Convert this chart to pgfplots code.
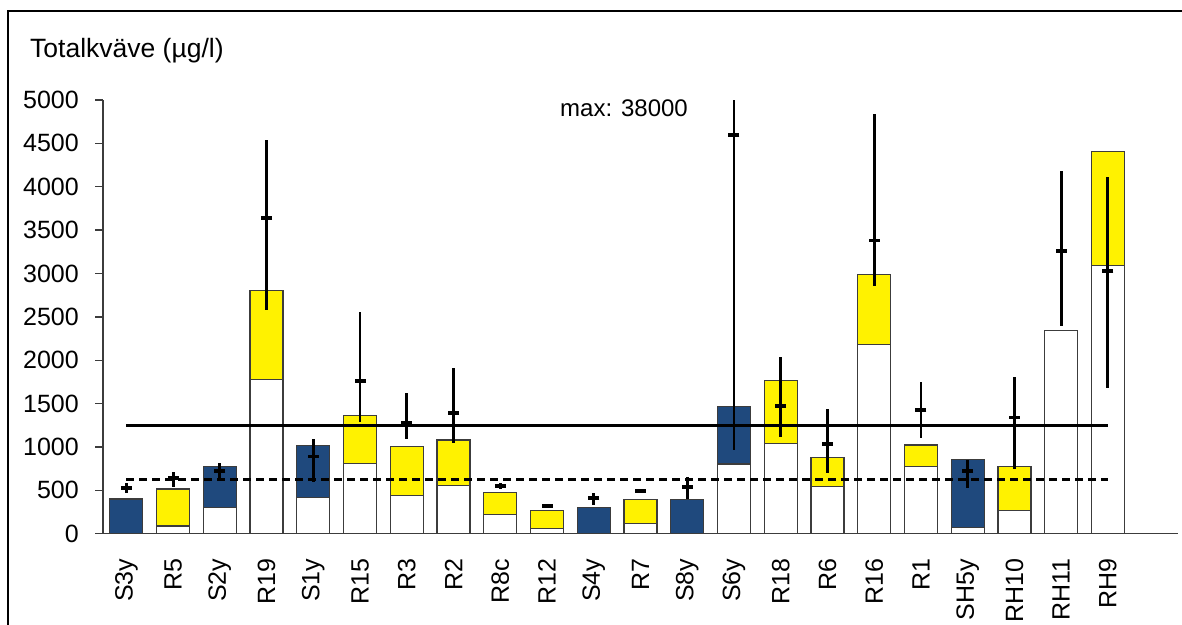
\documentclass[border=0pt]{standalone}
\usepackage{pgfplots}
\pgfplotsset{compat=1.18}
\usepackage{fontspec}
\setmainfont{Liberation Sans}
\definecolor{navy}{RGB}{31,73,125}
\definecolor{edge}{RGB}{60,60,60}
\pgfplotstableread{
x  y     ep     em
0  530   50     65
1  639   76     97
2  723   89     112
3  3643  899    1062
4  889   204    289
5  1762  793    477
6  1273  347    180
7  1393  522    350
8  550   38     38
9  320   20     25
10 408   58     77
11 493   27     28
12 543   115    146
13 4597  33403  3631
14 1473  569    354
15 1031  408    334
16 3381  1461   523
17 1423  324    323
18 723   127    200
19 1339  473    596
20 3262  915    873
21 3031  1077   1346
}\errtab
\begin{document}
\begin{tikzpicture}[x=1bp,y=1bp]
\path[use as bounding box] (0,0) rectangle (1182,-625);
\draw[line width=2bp, black] (8,-625) -- (8,-11) -- (1182,-11);
\node[anchor=base west, font=\fontsize{26.5bp}{31bp}\selectfont, inner sep=0pt] at (30,-58) {Totalkväve (µg/l)};
\begin{axis}[
  at={(103bp,-533.7bp)}, anchor=south west,
  width=1075bp, height=433.7bp, scale only axis,
  xmin=-0.5, xmax=22.5, ymin=0, ymax=5000,
  axis x line*=bottom, axis y line*=left,
  axis line style={edge, line width=1.3bp},
  ytick={0,500,...,5000},
  scaled y ticks=false,
  /pgf/number format/1000 sep={},
  /pgf/number format/assume math mode=true,
  tick label style={font=\fontsize{25bp}{30bp}\selectfont},
  tick align=outside,
  y tick style={edge, line width=1.3bp},
  major tick length=8bp,
  x tick style={draw=none},
  xtick={0,...,21},
  xticklabels={S3y,R5,S2y,R19,S1y,R15,R3,R2,R8c,R12,S4y,R7,S8y,S6y,R18,R6,R16,R1,SH5y,RH10,RH11,RH9},
  xticklabel style={rotate=90, anchor=east, inner sep=0pt},
  xticklabel shift=17bp,
  yticklabel style={inner sep=0pt},
  yticklabel shift=16bp,
  clip=true,
]
\addplot[ybar, bar width=33bp, bar shift=0pt, fill=navy, draw=edge, line width=1.2bp] coordinates {
(0,400) (2,777) (4,1020) (10,304) (12,397) (13,1462) (18,858)};
\addplot[ybar, bar width=33bp, bar shift=0pt, fill=yellow, draw=edge, line width=1.2bp] coordinates {
(1,516) (3,2800) (5,1362) (6,1008) (7,1081) (8,477) (9,270) (11,397) (14,1766) (15,877) (16,2985) (17,1023) (19,773) (21,4404)};
\addplot[ybar, bar width=33bp, bar shift=0pt, fill=white, draw=edge, line width=1.2bp] coordinates {
(1,89) (2,300) (3,1781) (4,416) (5,812) (6,442) (7,554) (8,224) (9,62) (11,115) (13,804) (14,1039) (15,543) (16,2185) (17,777) (18,70) (19,266) (20,2346) (21,3096)};
\addplot[black, line width=2.5bp] coordinates {(0,1250) (21,1250)};
\addplot[black, line width=2.5bp, dash pattern=on 8bp off 5bp] coordinates {(0,625) (21,625)};
\addplot[only marks, mark=-, mark size=5.5bp, mark options={black, line width=3.8bp},
  error bars/.cd, y dir=both, y explicit, error mark=none,
  error bar style={black, line width=2.8bp}]
  table[x=x, y=y, y error plus=ep, y error minus=em] {\errtab};
\end{axis}
\node[anchor=base west, font=\fontsize{24bp}{29bp}\selectfont, inner sep=0pt] at (560,-117) {max: 38000};
\end{tikzpicture}
\end{document}
